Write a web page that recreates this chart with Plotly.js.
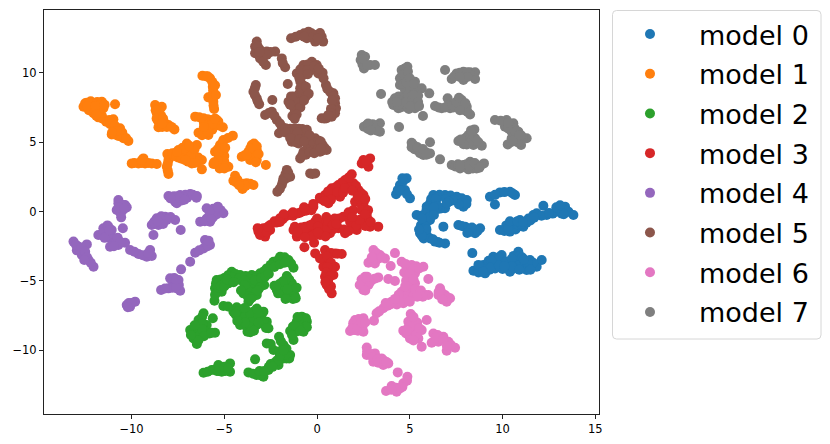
<!DOCTYPE html>
<html><head><meta charset="utf-8">
<script src="https://cdn.plot.ly/plotly-3.0.1.min.js"></script>
<style>html,body{margin:0;padding:0;background:#fff}#c{width:830px;height:444px}</style>
</head><body><div id="c"></div>
<script>
const modelNames=["model 0","model 1","model 2","model 3","model 4","model 5","model 6","model 7"];
const modelColors=["#1f77b4","#ff7f0e","#2ca02c","#d62728","#9467bd","#8c564b","#e377c2","#7f7f7f"];
const xTicks=[-10,-5,0,5,10,15];
const yTicks=[-10,-5,0,5,10];
const model0=[[4.83,2.39],[4.47,1.91],[4.26,1.24],[4.74,1.55],[5.01,.95],[6.27,1.19],[6.9,1.19],[7.53,1.07],[8.07,.83],[6.09,.59],[7.89,.35],[6.72,.23],[6.6,1.2],[7.2,1.15],[7.8,.95],
[9.32,1.07],[9.86,1.38],[10.4,1.43],[10.67,1.19],[9.59,.51],[12.2,.42],[5.37,-.25],[5.91,-.37],[6.36,.11],[6.9,.23],[6.27,.59],[6.81,-1.09],[5.55,-1.57],[5.91,-1.69],[6.36,-2.17],[6.9,-2.3],[6.09,-.61],[5.91,.35],[7.71,.59],[5.6,-1],[5.75,-1.95],[5.75,-.4],[6.6,-2.25],
[7.62,-.97],[7.98,-1.09],[8.34,-1.45],[8.79,-1.21],[8.52,-1.57],[9.86,-1.33],[10.4,-1.45],[10.58,-.85],[10.94,-.61],[11.12,-1.09],[11.66,-.25],[11.84,-.13],[12.38,-.25],[12.92,-.01],[13.37,.35],[13.55,-.01],[13.82,-.25],[10.8,-1.1],[11.4,-.5],[12.1,-.3],[12.7,-.15],[13.2,-.05],
[8.37,-3],[8.43,-4.27],[8.97,-3.86],[9.06,-4.46],[9.5,-3.26],[9.5,-3.86],[9.95,-3.14],[10.4,-4.34],[10.4,-3.74],[10.85,-2.9],[10.94,-3.62],[11.3,-4.22],[11.48,-3.5],[11.84,-3.98],[12.11,-3.5],[8.8,-4.3],[9.9,-4],[10.7,-3.3],[11,-4.1],
[4.65,2.2],[4.6,2.4],[4.35,1.55],[4.5,1.5],[4.85,1.25],[6.5,1],[7,1],[6.15,.9],[6.05,.35],[7.4,.85],[6.95,.9],[6.4,.9],[7.8,.6],[8.05,.55],[7.65,.5],[9.6,1.2],[10.1,1.4],[10.55,1.3],[5.6,-.3],[6.1,-.15],[6.1,.1],[6.6,.2],[5.95,-.7],[5.85,-1.1],[5.7,-1.3],[6.1,-1.95],[6.5,-2.2],
[7.8,-1.05],[8.15,-1.25],[8.5,-1.3],[8.65,-1.4],[8.2,-1.4],[10.1,-1.4],[10.5,-1.1],[10.75,-.75],[10.7,-1.3],[10.85,-.95],[11.3,-.8],[11.5,-.65],[11.7,-.45],[13.1,.1],[13.4,.05],[12.5,-.1],
[8.7,-4.1],[8.7,-4.4],[9.2,-3.8],[9.3,-4.2],[9.7,-3.6],[9.8,-3.3],[9.6,-4.1],[10,-4.15],[10.6,-3.2],[10.7,-3.7],[10.6,-4.1],[10.9,-3.2],[11.05,-3.3],[11.2,-3.9],[11.5,-3.9],[11.65,-3.7],[9.25,-3.55],
[6.5,.4],[7.3,.8],[7.1,.7],[6.1,.2],[5.9,.1],[6.3,.3],[5.85,-.15],[6.05,-.4],[5.65,-.5],[6.3,-.25],[5.9,-1.3],[5.65,-1.75],[6.25,-2],[5.5,-1.3],[7,.6],[8.35,-1.15],[8.1,-1.55],[10.2,-1],[10.3,-1.25],[10.4,-.7],[11,-.9],[10.8,-.7],[11.1,-.75],[12.9,.3],[13.1,.45],[13.2,-.15],[13.3,-.2],
[9,-4.15],[9.4,-3.55],[9.35,-4.05],[9.8,-3.9],[10.2,-3.6],[10.5,-3.4],[10.9,-3.9],[10.5,-3.95],[10.9,-4.2],[11.35,-3.7],[11.5,-4.2],[11.15,-3.45],[8.7,-3.85],[10.1,-3.95],[8.95,-4.35]];
const model1=[[-12.59,7.56],[-12.41,7.85],[-12.05,7.85],[-11.6,7.92],[-11.52,7.44],[-11.88,7.44],[-12.05,7.08],[-11.79,6.79],[-11.37,6.48],[-10.98,6.65],[-10.62,6],[-11.07,5.56],[-10.71,5.44],[-10.44,5.28],[-10.17,5.08],[-10.89,7.73],[-12.2,7.5],[-11.8,7.2],
[-8.73,7.68],[-8.37,7.56],[-8.64,7.08],[-8.55,6.48],[-8.55,6.07],[-8.19,6.36],[-8.01,6.24],[-7.69,5.92],[-8.4,6.9],[-6.18,9.79],[-5.77,9.6],[-5.62,9],[-5.59,8.52],[-5.86,8.23],[-5.59,7.92],[-5.55,7.39],
[-6.57,6.84],[-6.12,6.72],[-5.68,6.6],[-5.32,6.48],[-5.95,6.24],[-5.59,6.12],[-5.08,6.07],[-6.39,5.68],[-5.86,5.52],[-5.77,5.88],[-4.54,5.47],[-5.05,5.15],[-5.23,4.8],[-5.5,4.31],[-5.05,4.31],[-5.59,3.42],[-5.14,3.23],[-4.78,3.23],[-5.14,3.83],
[-8.07,4.14],[-8.01,3.71],[-8.1,3.23],[-8.01,2.7],[-7.47,4.43],[-7.02,4.91],[-6.48,4.79],[-7.02,4.31],[-7.2,3.83],[-6.66,4.19],[-6.75,3.47],[-6.21,3.71],[-6.21,3.04],[-7.7,4],[-7.5,3.9],[-6.4,3.9],[-9.99,3.47],[-9.63,3.47],[-9.36,3.83],[-9.27,3.47],[-8.91,3.47],[-8.64,3.42],
[-3.52,4.79],[-3.25,4.43],[-3.7,4.31],[-4.06,3.95],[-3.43,3.95],[-3.25,3.71],[-3.61,3.71],[-2.76,3.35],[-4.42,2.58],[-4.51,2.22],[-4.15,2.03],[-3.79,2.03],[-3.43,1.91],[-4.02,1.62],
[-12.5,7.8],[-12.25,7.7],[-12.2,7.95],[-11.85,7.9],[-11.75,7.65],[-12.3,7.3],[-12,7.3],[-11.7,7.1],[-11.9,6.9],[-11.6,6.9],[-11.55,6.7],[-11.2,6.6],[-11.15,6.3],[-10.9,6.2],[-10.7,5.8],[-10.5,5.7],[-10.9,5.55],[-10.6,5.5],[-10.3,5.3],
[-8.6,7.4],[-8.5,7.2],[-8.5,6.8],[-8.45,6.3],[-8.35,6.1],[-8.3,6.5],[-8.1,6.1],[-7.85,6.1],[-6,9.75],[-5.65,9.35],[-5.6,8.75],[-5.7,8.3],[-5.6,8.2],[-5.58,7.65],
[-6.35,6.8],[-5.9,6.65],[-6.1,6.4],[-5.8,6.4],[-5.5,6.35],[-5.3,6.2],[-5.95,6],[-5.65,5.9],[-6.15,5.6],[-6,5.7],[-5.4,6.6],[-4.8,5.3],[-5.1,4.95],[-5.35,4.5],[-5.2,4.1],[-5.3,3.9],[-5,4],[-5.35,3.35],[-4.95,3.3],[-5.25,3.55],[-5,3.6],
[-7.8,4.2],[-7.6,4],[-7.3,4.2],[-7.25,4.6],[-6.85,4.55],[-7.4,3.95],[-7,4],[-6.9,3.8],[-6.5,3.85],[-6.95,3.6],[-6.45,3.6],[-8.05,2.95],[-8.05,3.45],[-9.85,3.5],[-9.45,3.5],[-9.1,3.5],[-9.45,3.7],
[-3.4,4.6],[-3.5,4.3],[-3.9,4.05],[-3.5,4.1],[-3.4,3.8],[-3.3,4.1],[-4.3,2.3],[-4.35,2.1],[-3.95,2],[-3.6,2],[-3.85,1.85],[-4.2,1.9],
[-7.2,4.4],[-7.3,3.8],[-6.8,4],[-7.1,3.7],[-6.6,3.5],[-6.6,4.5],[-7.55,4.3],[-6.9,4.75],[-5.65,6.3],[-6.2,5.5],[-5.9,5.75],[-6.1,6.1],[-5.5,6.7],[-5.3,4.3],[-5.15,4.55],[-5.35,3.7],[-5.25,3.1],[-5.55,3.55],[-5,3.1],[-4.95,4.6],
[-3.4,4.9],[-3.25,4.7],[-3.6,4.55],[-3.15,4.15],[-3.3,3.55],[-3.8,4.1],[-12.4,7.6],[-11.7,7.4],[-11.95,7.6],[-11.45,7.7],[-11.9,7],[-10.8,5.8],[-11.05,5.7],[-5.5,9.1],[-5.45,8.4],[-5.9,9.75],[-8.7,7.3],[-8.65,6.7],[-8.3,6.7],[-8.35,6.35]];
const model2=[[-1.99,-3.26],[-2.35,-3.62],[-1.54,-3.5],[-1.27,-4.05],[-2.71,-4.1],[-3.07,-4.46],[-1.63,-4.65],[-1.36,-5.18],[-1.18,-6.14],[-1.81,-5.66],[-2.17,-5.66],[-1.54,-6.14],[-1.72,-5.18],[-1.36,-5.66],[-5.41,-4.94],[-4.6,-4.34],[-4.15,-4.58],[-3.52,-4.58],[-4.78,-5.18],[-5.5,-5.54],[-5.14,-5.78],[-5.53,-6.43],[-5,-4.8],
[-3.43,-5.18],[-2.98,-5.18],[-3.97,-5.9],[-3.61,-5.66],[-3.25,-6.02],[-3.7,-6.5],[-4.15,-4.94],[-5.05,-6.81],[-4.33,-6.91],[-4.51,-7.22],[-4.06,-7.58],[-3.43,-7.22],[-2.89,-7.22],[-4.15,-8.18],[-3.61,-7.94],[-3.25,-8.18],[-2.71,-7.94],[-3.75,-8.67],[-2.62,-8.42],[-3.79,-7.46],[-3.6,-5.2],
[-6.12,-7.34],[-5.62,-7.7],[-6.39,-7.82],[-6.84,-8.54],[-6.39,-8.42],[-6.66,-9.15],[-6.48,-9.55],[-6.04,-8.79],[-5.5,-8.74],[-5.95,-8.18],[-.82,-7.58],[-.55,-7.94],[-1.09,-7.94],[-.73,-8.67],[-1.45,-8.62],[-1.27,-9.27],[-1,-8.3],
[-2.05,-9.03],[-2.71,-9.51],[-2.35,-9.99],[-1.81,-9.63],[-1.45,-10.35],[-1.81,-10.59],[-2.35,-10.95],[-2.08,-11.07],[-3.34,-10.66],[-3.7,-11.6],[-3.25,-11.79],[-2.89,-11.91],[-2.62,-11.43],[-6.12,-11.62],[-5.68,-11.43],[-5.32,-11.07],[-5.14,-11.55],[-4.69,-10.95],[-4.69,-11.55],[-5.4,-11.5],
[-1.75,-3.3],[-2.1,-3.5],[-1.4,-3.75],[-2.5,-3.85],[-2.85,-4.3],[-3.25,-4.65],[-1.5,-4.9],[-1.55,-5.4],[-1.3,-5.4],[-1.25,-5.9],[-1.5,-5.85],[-1.9,-5.9],[-1.95,-5.4],[-2.3,-5.35],[-1.35,-6.15],[-1.7,-4.9],
[-5.2,-4.9],[-5.35,-5.2],[-4.95,-5.1],[-4.8,-4.6],[-4.4,-4.5],[-4.55,-4.75],[-4.2,-4.8],[-3.85,-4.65],[-3.6,-4.9],[-3.3,-4.8],[-3.1,-4.85],[-3.3,-5.4],[-3.6,-5.4],[-2.85,-5.3],[-3.4,-5.8],[-3.8,-5.6],[-3.75,-6.1],[-3.5,-6.2],[-5.35,-5.8],[-5.5,-6],[-5.3,-5.5],
[-4.8,-6.85],[-4.25,-7.2],[-4.25,-7.6],[-4.3,-7.6],[-3.8,-7.2],[-3.5,-7.5],[-3.2,-7.3],[-3,-7.65],[-3.2,-7.7],[-3.4,-8.3],[-3.6,-8.4],[-3.9,-8.2],[-4,-7.9],[-3.7,-8.1],[-2.9,-8.1],[-2.75,-8.2],[-3.8,-7.2],
[-6.6,-8.4],[-6.7,-8.8],[-6.4,-8.7],[-6.5,-9.1],[-6.3,-8.9],[-6.15,-8.4],[-6.15,-8.1],[-6.2,-7.6],[-5.8,-8.8],[-6.2,-8.1],[-.7,-7.7],[-.9,-7.75],[-.8,-8],[-.8,-8.3],[-.55,-8.35],[-1.3,-8.3],[-1.1,-8.65],[-1.35,-8.9],
[-1.95,-9.35],[-1.65,-9.9],[-1.9,-10.1],[-1.6,-10.3],[-2.05,-10.1],[-1.65,-10.6],[-2.1,-10.7],[-2.6,-11.2],[-3.45,-11.7],[-3.05,-11.8],[-3.1,-11.5],[-2.85,-11.5],[-2.5,-9.55],[-5.9,-11.55],[-5.5,-11.4],[-5.3,-11.5],[-4.95,-11.5],[-5,-11.2],[-4.8,-11.3],
[-5.45,-5.2],[-5.2,-5.35],[-5,-5.4],[-4.85,-4.9],[-4.5,-5.1],[-3.9,-5],[-3.9,-5.3],[-3.35,-4.95],[-3.1,-5.5],[-3,-4.8],[-2.8,-4.7],[-2.6,-4.5],[-2.3,-4],[-2,-3.8],[-1.75,-3.7],[-3.2,-5.7],[-3.6,-6.3],[-4.1,-5.7],[-2,-5.2],[-1.85,-5.05],[-1.6,-5.6],[-1.1,-5.5],[-1.3,-6.3],[-1.7,-6.3],[-2.1,-5.9],[-1.15,-6.25],[-2.2,-5.35],
[-4.4,-7.4],[-3.9,-7.6],[-3.9,-8],[-3.4,-7.7],[-3.6,-7.3],[-3.15,-7.5],[-2.9,-7.9],[-3.15,-8],[-4.3,-7.9],[-3.6,-8.7],[-3.4,-8.6],[-2.75,-8.4],[-3.25,-7],[-3.9,-6.95],[-6.2,-8.5],[-6.6,-8.2],[-6.1,-9],[-6.4,-9.3],[-5.7,-8.75],[-6.8,-8.9],
[-.6,-7.7],[-.6,-8.3],[-.95,-8.4],[-1,-7.8],[-1.2,-8.2],[-.9,-8.6],[-1.05,-7.6],[-2.2,-10.8],[-1.5,-10.6],[-1.7,-10.35],[-2,-10.4],[-1.8,-10],[-2.5,-11],[-2.4,-11.2]];
const model3=[[2.41,3.47],[2.86,3.83],[2.77,3.23],[2.5,3.71],[1.87,2.68],[1.51,2.27],[1.15,1.91],[.79,1.67],[.43,1.19],[1.96,2.03],[2.5,1.19],[2.23,1.55],[1.24,1.07],[.61,.59],[2.05,.71],[2.5,.59],[1.6,1.8],[.9,1.2],
[2.41,.47],[2.68,-.25],[1.96,.11],[1.42,-.37],[.79,-.73],[.34,-1.21],[.7,-1.57],[.16,-1.69],[1.51,-1.57],[2.14,-1.33],[2.86,-1.09],[3.3,-1.09],[2.41,-.85],[1.78,-.73],[1.15,-1.21],
[.43,-2.78],[.97,-3.02],[1.33,-3.06],[.52,-3.5],[.97,-3.98],[.43,-4.7],[.88,-4.58],[.52,-5.3],[.79,-5.9],[.34,-3.98],[.6,-3.1],[.6,-4.3],
[-3.16,-1.45],[-2.89,-1.21],[-2.53,-1.33],[-2.8,-1.81],[-3.07,-1.69],[-2.53,-.97],[-2,-.49],[-1.45,-.25],[-.82,-.01],[-.2,.35],[-2.3,-.7],[-1.7,-.35],[-1.1,-.15],[-.55,.11],
[-1.27,-1.33],[-1.09,-1.81],[-.64,-1.09],[-.55,-1.57],[-.1,-.73],[-.02,-1.45],[-.68,-2.58],[-.16,-2.25],[-.1,-3.02],[.16,-3.38],[.2,.9],
[2.6,3.5],[2.65,3.65],[1.35,2.1],[1.7,2.45],[1,1.75],[.6,1.45],[2.1,1.85],[2.35,1.35],[1.1,1.4],[.75,.85],[1.4,1.35],[2.3,.9],[2.55,.25],[2.4,.1],[2.55,-.5],[2.75,-.6],[1.7,-.05],[1.2,-.5],[.95,-.5],[.6,-1],[.45,-.8],[.35,-1.6],[.45,-1.4],[.85,-1.3],[1.45,-1.3],[1.85,-1],[2.1,-1],[2.6,-1.05],[2.9,-.75],[2.3,-.6],[1.9,-.4],[1.7,-1.4],[.1,-1],[.5,-.4],[.3,-.9],[.2,-1.3],
[.5,-3],[.75,-3],[1.1,-3.05],[.55,-3.25],[.75,-3.7],[.8,-4.1],[.55,-4],[.5,-4.4],[.7,-4.65],[.6,-5],[.75,-5.4],[.65,-5.6],[.45,-5.1],
[-3.2,-1.2],[-2.95,-1.5],[-2.7,-1.5],[-2.65,-1.1],[-2.2,-.8],[-1.85,-.55],[-1.3,-.3],[-.95,-.1],[-.4,.2],[-.6,.05],[-.3,.1],[-1.2,-1.1],[-1,-1.3],[-.85,-1.5],[-.85,-1.15],[-.3,-1.15],[-.35,-1.5],[-.1,-1.1],[0,-.5],
[.3,-1.4],[.55,-1.2],[.6,-.7],[.85,-.95],[1.05,-.9],[-.2,-1.7],[-.4,-1],[-.7,-1.3],[-.3,-.95],[-.3,-1.8],[.05,-1.1],[.45,-1.8],[.05,-1.5],[-1.05,-1.5],[-.65,-1.85],[-1.8,-.2],[-1.3,-.05],[-.7,.3],[-.2,.55],[-2,-.75],[1.5,1.7],[1.9,1.5],[2.2,1.1],[2.6,.9],[2.75,.1],[2.6,-.2],[.15,1],[.4,.75]];
const model4=[[-10.71,.83],[-10.35,.47],[-10.71,.59],[-10.26,.3],[-10.8,.11],[-10.56,-.42],[-10.44,.47],[-11.52,-1.21],[-11.79,-1.69],[-11.34,-1.57],[-10.98,-1.93],[-11.16,-2.54],[-10.71,-2.42],[-10.35,-2.25],[-10.47,-1.21],[-11.61,-1.69],[-11.07,-1.33],
[-10.08,-2.78],[-9.63,-3.06],[-9.18,-3.26],[-9,-2.78],[-8.91,-3.21],[-13.13,-2.17],[-12.86,-2.54],[-12.41,-2.37],[-12.68,-3.14],[-12.32,-3.5],[-12.05,-3.98],[-12.95,-2.8],[-12.5,-3.3],
[-8.91,-.97],[-8.64,-.49],[-8.19,-.37],[-7.65,-.61],[-8.82,-1.69],[-8.55,-.97],[-7.35,-1.33],[-5.95,.23],[-5.41,.23],[-5.05,-.13],[-5.77,-.37],[-6.3,-.73],[-5.77,-.73],[-5.4,-.2],
[-6.04,-2.05],[-5.77,-2.42],[-6.12,-2.66],[-6.57,-2.97],[-6.84,-3.62],[-7.33,-4.17],[-7.92,-4.82],[-7.47,-4.94],[-7.56,-5.54],[-8.01,-5.54],[-8.41,-5.66],[-7.38,-5.71],[-10.26,-6.74],[-9.81,-6.5],[-10.08,-6.86],
[-8.01,1.12],[-7.38,1.19],[-6.48,1.12],[-7.65,.71],[-7.83,1.07],[-6.84,1.26],[-7.56,.59],[-7,1],[-7.3,.8],
[-10.6,.2],[-10.5,.05],[-10.6,-.1],[-11.3,-1.2],[-11.5,-1.5],[-11.2,-1.75],[-11.1,-2],[-11,-2.3],[-10.85,-2.2],[-10.75,-1.9],[-10.6,-2.2],[-9.85,-2.9],[-9.4,-3.15],[-9.1,-3],[-13,-2.4],[-12.75,-2.8],[-12.7,-2.6],[-12.5,-2.9],[-12.4,-3.3],[-12.2,-3.7],[-12.55,-3.5],
[-8.4,-.35],[-7.9,-.4],[-8.75,-.7],[-8.3,-.65],[-8.1,-.6],[-5.6,.2],[-5.2,.1],[-5.55,-.1],[-5.95,-.5],[-6.05,-.7],[-5.6,-.4],[-5.9,-2.25],[-5.9,-2.5],[-6.35,-2.8],[-5.85,-2.1],
[-7.8,-5],[-7.65,-5.2],[-7.8,-5.5],[-7.45,-5.3],[-7.7,-4.8],[-8.2,-5.55],[-10.15,-6.6],[-10,-6.6],[-10.2,-6.9],[-7.7,1.1],[-7.5,1.1],[-7.1,1.2],[-6.7,1.2],[-7.5,.85],[-7.2,1.05],
[-11.3,-1],[-11.45,-1.9],[-11.25,-1.1],[-11.2,-1.35],[-10.95,-2.5],[-7.6,-5.4],[-7.6,-4.9],[-10.7,.3],[-10.4,.2],[-5.8,0],[-5.35,.35],[-5.7,-.55],[-7.4,1],[-7.9,.95],[-7.15,.85],[-6.5,1],[-8.8,-.8],[-8.45,-.5],[-8.3,-.9],[-8.6,-.7]];
const model5=[[-3.25,12.25],[-3.34,11.89],[-3.34,11.41],[-2.98,11.53],[-2.71,11.53],[-2.26,11.53],[-3.07,11.04],[-2.76,10.56],[-1.9,11.04],[-1.72,10.4],[-1.4,12.49],[-.91,12.73],[-.46,12.97],[-.1,12.73],[-.55,12.49],[-.1,12.25],[.25,12.6],[.33,12.25],[.16,12.87],
[-.73,10.56],[-.28,10.8],[-.02,10.56],[-1.09,9.96],[-.73,9.84],[-.28,10.2],[.07,9.96],[-1.58,9.19],[-.91,8.88],[-.64,8.64],[-1.09,8.16],[-1.54,7.92],[-1.27,7.56],[-.82,7.92],[-1.33,6.89],[-2.41,8.04],[-3.3,9.12],[-3.43,8.64],[-3.25,8.16],[-3.12,7.73],
[-2.8,6.96],[-2.44,7.2],[-2.17,6.6],[-1.9,6.12],[-2.05,5.64],[-1.45,5.96],[-1,5.96],[-.64,5.76],[-1.36,5.03],[-1,4.91],[-.73,5.28],[-1.27,5.52],[-.1,5.28],[-.37,4.67],[-.02,4.67],[-.73,4.31],[-.91,3.83],[-.37,2.75],[-.1,2.75],[-1.63,3],[-1.81,2.39],[-1.45,2.51],[-1.9,1.91],[-2.14,1.43],
[.3,10.01],[.48,9.12],[.88,8.52],[.97,7.8],[.97,7.08],[.52,6.72],[.25,6.72],[.3,4.79],[.52,4.43],[.16,4.31],[.25,12.37],[.7,8.64],[.97,8.16],[1.02,7.44],[.79,6.84],
[-3.25,12],[-3.1,11.7],[-3.15,11.3],[-2.85,11.3],[-2.5,11.5],[-2.9,10.8],[-1.85,10.7],[-1.15,12.6],[-.7,12.85],[-.3,12.85],[-.3,12.55],[.05,12.5],[-.7,12.6],[-.5,10.6],[-.9,10.25],[-.5,10.2],[-.5,9.9],[-.15,10.45],[.1,10.3],[-.9,9.35],[-.75,9.1],[-.75,8.25],[-.95,8.5],[-1.25,8.3],[-1.05,7.85],[-1.2,7.2],[-1.3,8],[-.6,8.3],
[-3.35,8.9],[-3.35,8.4],[-3.2,7.95],[-2.6,7.1],[-2.3,6.9],[-2,6.35],[-1.7,6],[-1.2,6],[-.8,5.95],[-.65,5.5],[-1.3,5.25],[-1.15,5],[-.85,5.6],[-1.5,5.7],[-1.05,5.7],[-.25,5],[-.55,4.5],[-.2,4.4],[-.6,4.1],[-.8,4.05],[.05,4.5],
[-1.7,2.7],[-1.55,2.8],[-1.65,2.4],[-1.85,2.15],[-2,1.65],[-.25,2.7],[.35,9.6],[.55,8.85],[.85,8.3],[.9,7.55],[.95,7.3],[.75,6.95],[.4,6.7],[.4,4.6],[.3,4.4],
[-.95,9.6],[-.6,9],[-.45,8.5],[-1.4,8.3],[-.9,7.5],[-1.45,7.7],[-.7,8],[-1.1,7],[-1.2,6.7],[-1.7,5.7],[-.95,5.2],[-.55,5.9],[-.4,5.5],[-.7,5.05],[-1.45,5.3],[.1,5.1],[.2,5.05],[-.4,4.3],[-.15,4.2],[.2,4.55],[.8,8],[.75,7.4],[.75,7.1],[.6,6.95],[-3.2,11.9],[-2.7,11.3],[-3.1,11.5]];
const model6=[[3.04,-2.78],[3.39,-3.14],[3.66,-3.38],[2.77,-3.69],[3.12,-3.74],[4.2,-3],[3.97,-3.93],[4.56,-3.62],[5.1,-3.86],[5.73,-3.98],[4.92,-4.34],[5.28,-4.46],[6,-4.87],[2.59,-4.7],[2.41,-5.18],[2.5,-5.66],[2.95,-4.94],[3.3,-4.75],[3.84,-4.87],[4.2,-5.01],[2.77,-5.3],
[4.92,-5.18],[5.28,-5.18],[4.56,-5.78],[5.01,-5.78],[5.55,-5.9],[6,-6.02],[4.47,-6.38],[4.92,-6.14],[6.63,-5.54],[6.9,-6.02],[7.17,-6.26],[6.99,-6.5],[6.54,-6.02],[4.02,-6.5],[3.57,-6.98],[3.21,-7.34],[3.07,-7.87],[4.65,-6.62],[4.29,-6.5],[3.8,-6.8],
[2.5,-7.7],[2.05,-7.82],[1.78,-8.62],[2.5,-8.67],[2.23,-8.18],[1.96,-8.3],[5.05,-7.39],[4.92,-7.94],[4.65,-8.59],[5.91,-7.82],[5.19,-8.42],[5.64,-8.55],[5.01,-9.15],[5.46,-9.15],[5.64,-9.75],[5.19,-8.79],[6.27,-8.79],[6.81,-9.03],[6.18,-9.46],[6.54,-9.39],[7.08,-9.39],[7.44,-9.82],[6.99,-10.04],
[2.68,-9.8],[2.68,-10.35],[3.12,-10.23],[3.03,-10.83],[3.48,-10.59],[3.84,-10.95],[3.57,-11.07],[4.35,-11.6],[4.87,-11.91],[4.65,-12.39],[4.47,-12.75],[4.02,-12.58],[3.72,-12.94],[4.29,-12.99],
[3.2,-3],[3.3,-3.4],[3.5,-3.3],[3,-3.5],[2.95,-3.3],[4.8,-3.8],[5.35,-3.95],[5.05,-4.1],[5.5,-4.1],[4.75,-3.8],[2.55,-4.95],[2.7,-5.1],[2.6,-5.4],[3.1,-4.85],[2.85,-5.1],
[5.05,-4.75],[5.1,-5.2],[5.1,-5.5],[4.8,-5.5],[4.75,-6.1],[5.3,-5.9],[5.8,-6],[4.7,-6.3],[5.2,-6.1],[3.95,-6.7],[3.35,-7.2],[4.3,-6.7],[4.45,-6.55],[6.7,-5.8],[6.8,-6.2],[7.05,-6.2],
[2.25,-7.75],[2.2,-8.6],[2,-8.55],[2.45,-8.3],[1.95,-8.05],[5.1,-8],[4.9,-8.4],[5,-8.7],[4.8,-8.8],[5.3,-9],[5.15,-9.2],[5.4,-8.6],[5.35,-8.2],[6.5,-8.9],[6.55,-9.2],[6.4,-9.1],[6.8,-9.25],[7.2,-9.6],[7,-9.7],
[2.7,-10.1],[2.9,-10.3],[3,-10.5],[3.25,-10.65],[3.3,-10.9],[3.6,-10.75],[3.75,-10.85],[4.85,-12.2],[4.6,-12.65],[4.25,-12.7],[4,-12.85],
[4.7,-4.4],[4.8,-5],[5,-4.5],[4.75,-5.4],[5.2,-4.9],[5.3,-5.6],[5.6,-5.7],[5.7,-6.15],[4.4,-6],[4.2,-6.3],[5.4,-6.15],[5,-6.5],[3.7,-6.6],[2.4,-4.9],[2.7,-4.7],[2.3,-5.3],[2.6,-5.7],[6.75,-6.35],[6.55,-5.8],[5.4,-8],[5.2,-7.6],[5,-8.3],[5.35,-8.9],[5.2,-9.3],[4.85,-8.6],[5.5,-8.4],[2.15,-7.9],[2.35,-8.5],[1.9,-8.4],[2.15,-8.35],[2.4,-8],[2.6,-8]];
const model7=[[2.41,11.28],[2.59,11.16],[2.35,10.92],[2.53,10.32],[2.86,10.56],[3.12,10.56],[2.45,10.6],[4.87,10.44],[4.56,10.2],[4.47,9.6],[4.83,9.72],[4.47,9.12],[4.92,9.12],[5.28,9.36],[5.64,8.88],[4.74,8.76],[5.37,8.64],[3.45,8.47],[6.05,8.52],
[4.2,8.16],[4.11,7.68],[4.38,7.44],[4.74,8.16],[4.74,7.56],[5.28,8.16],[5.28,7.44],[5.01,7.8],[4.47,7.92],[5.71,6.89],[4.42,6.09],[6.9,10.2],[7.26,9.55],[7.53,9.96],[7.89,10.08],[8.52,10.04],[7.89,9.48],[8.52,9.55],[8.25,10.04],
[6.36,7.61],[6.72,7.44],[7.04,8.16],[7.17,7.44],[7.53,7.68],[7.8,8.04],[7.89,7.32],[8.25,7],[8.07,7.56],[7.08,7.68],[9.59,6.6],[10.22,6.6],[10.13,6.12],[10.58,6.36],[10.49,5.76],[10.85,5.76],[10.49,5.28],[10.85,5.28],[11.3,5.28],[10.28,4.84],[11,4.79],
[8.48,5.92],[8.16,5.52],[7.62,5.08],[8.07,4.84],[8.52,5.28],[8.88,4.75],[8.43,4.79],[5.1,4.96],[5.1,4.63],[5.37,4.43],[5.73,4.31],[6.09,4.19],[6.09,4.99],[5.73,4.07],[6.63,3.76],[7.26,3.35],[7.71,3.11],[8.25,3.59],[8.16,3.04],[8.6,3.11],[9,3.47],[7.89,3.35],[8.6,3.35],
[2.68,6.24],[3.03,6],[3.39,6.36],[2.53,6.12],[3.39,5.76],
[2.5,11],[2.7,10.55],[4.7,10.3],[4.6,9.9],[4.7,9.5],[4.65,9.2],[5,9.4],[5.3,9],[5.05,8.9],[4.4,8.3],[4.5,7.5],[4.95,7.4],[4.9,8.4],[5.2,7.6],[4.05,7.9],[4.65,7.75],[5,8.2],[5.45,8.35],[7.4,9.75],[7.7,10],[8.1,10.05],[8.1,9.7],[7.7,9.7],
[6.55,7.5],[6.9,7.5],[7.35,7.5],[7.65,7.45],[7.75,7.75],[7.95,7.65],[8.1,7.2],[7.3,7.65],[9.9,6.55],[10.3,6.3],[10.35,5.95],[10.65,6],[10.6,5.55],[10.7,5.2],[11.1,5.3],[10.45,5],[10.8,5],[11,5.5],
[8.3,5.6],[8,5.3],[7.85,5.05],[8.25,5],[8.4,5.4],[8.7,5],[8.1,5.1],[5.2,4.8],[5.25,4.5],[5.5,4.4],[5.9,4.25],[5.55,4.2],[7.45,3.25],[7.95,3.2],[8.4,3.1],[8.8,3.3],[8.35,3.4],[8.05,3.4],[2.85,6.2],[3.2,6.2],[2.75,5.95],[3.2,5.85],
[4.4,8],[4.4,7.7],[4.8,7.9],[5.1,8],[5.2,8.4],[5.05,7.6],[4.7,9.9],[4.9,10.1],[4.8,9.3],[5,9.6],[5.2,9.2],[4.3,7.9],[5.45,7.9],[5.5,7.6],[7.5,7.9],[7.65,8.2],[8,7.8],[7.7,7.3],[10.3,6],[10.7,5.75],[10.3,6.4],[10.9,5.5],[10.55,5.1],[8.3,5.85],[8.35,5.15],[8.6,5.1],[8.15,4.9],[7.9,4.85],[7.75,5.2],[8.2,3.3],[7.6,3.4],[7.7,3.3],[8.5,3.5],[8.75,3.15],[5.4,4.65],[5.7,4.5],[5.9,4.1],[3,6.3],[2.75,6.35],[2.9,5.85]];
const seriesData=[model0,model1,model2,model3,model4,model5,model6,model7];

const traces=seriesData.map((pts,i)=>({
  type:"scatter",mode:"markers",name:modelNames[i],legendgroup:modelNames[i],
  x:pts.map(p=>p[0]),y:pts.map(p=>p[1]),
  marker:{color:modelColors[i],size:10,line:{width:0}},hoverinfo:"skip"
}));
const axisBase={showgrid:false,zeroline:false,showline:true,mirror:true,linecolor:"#222",linewidth:1,ticks:"outside",ticklen:4,tickwidth:1,tickcolor:"#222",tickfont:{family:"DejaVu Sans",size:11.5,color:"#000"},tickmode:"array"};
const layout={
  width:830,height:444,paper_bgcolor:"#fff",plot_bgcolor:"#fff",
  margin:{l:44,r:231,t:10,b:30},
  xaxis:Object.assign({},axisBase,{range:[-14.72,15.2],tickvals:xTicks,ticktext:xTicks.map(v=>v<0?"\u2212"+(-v):""+v)}),
  yaxis:Object.assign({},axisBase,{range:[-14.6,14.53],tickvals:yTicks,ticktext:yTicks.map(v=>v<0?"\u2212"+(-v):""+v)}),
  showlegend:true,
  legend:{font:{family:"DejaVu Sans",size:27,color:"#000"},bgcolor:"rgba(0,0,0,0)",borderwidth:0,itemwidth:88,tracegroupgap:1.6,itemclick:false,itemdoubleclick:false,
    xanchor:"left",yanchor:"top",x:1.0036,y:1.0},
  shapes:[{type:"path",xref:"paper",yref:"paper",layer:"below",
    path:(function(){const X=p=>(p-44)/555,Y=p=>(414-p)/404;const l=612.5,r=821,t=10.5,b=339,q=4;
      return `M ${X(l+q)} ${Y(t)} L ${X(r-q)} ${Y(t)} Q ${X(r)} ${Y(t)} ${X(r)} ${Y(t+q)} L ${X(r)} ${Y(b-q)} Q ${X(r)} ${Y(b)} ${X(r-q)} ${Y(b)} L ${X(l+q)} ${Y(b)} Q ${X(l)} ${Y(b)} ${X(l)} ${Y(b-q)} L ${X(l)} ${Y(t+q)} Q ${X(l)} ${Y(t)} ${X(l+q)} ${Y(t)} Z`;})(),
    line:{color:"#d6d6d6",width:1},fillcolor:"#fff"}]
};
Plotly.newPlot("c",traces,layout,{displayModeBar:false,staticPlot:true});
</script></body></html>
